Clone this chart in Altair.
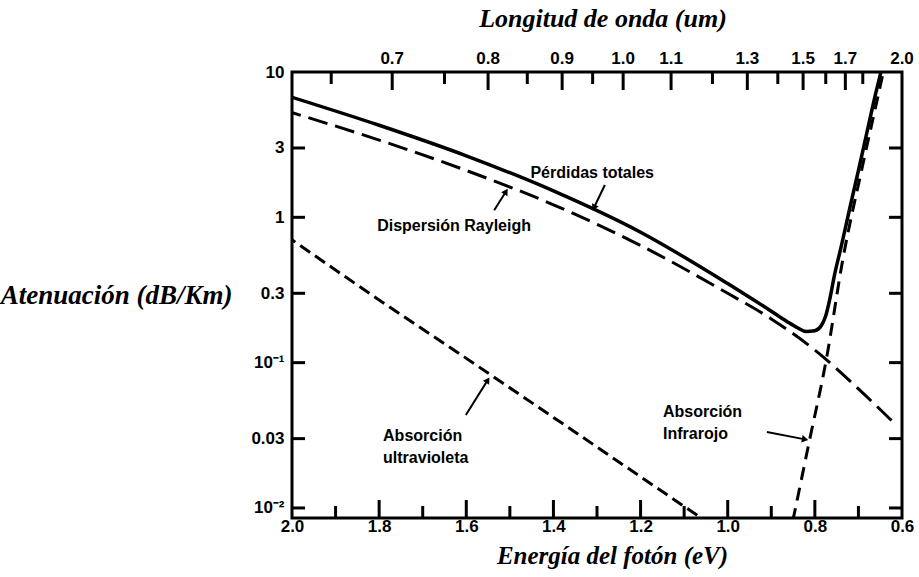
import math
import altair as alt
import pandas as pd

# ---- attenuation curves (dB/km) versus photon energy (eV) ----
energy_total = [2.0, 1.8, 1.6, 1.4, 1.2, 1.0, 0.94, 0.9, 0.865, 0.84, 0.82, 0.80,
                0.785, 0.775, 0.765, 0.755, 0.74, 0.72, 0.70, 0.68, 0.66, 0.645]
loss_total = [6.7, 4.3, 2.65, 1.52, 0.79, 0.35, 0.27, 0.226, 0.193, 0.174, 0.164, 0.166,
              0.18, 0.21, 0.28, 0.40, 0.62, 1.15, 2.1, 3.9, 7.2, 11.0]

energy_rayleigh = [2.0, 1.8, 1.6, 1.4, 1.2, 1.0, 0.9, 0.8, 0.7, 0.624]
loss_rayleigh = [5.25, 3.4, 2.1, 1.22, 0.64, 0.30, 0.20, 0.122, 0.066, 0.040]

energy_uv = [2.0, 1.8, 1.6, 1.4, 1.2, 1.07]
loss_uv = [0.70, 0.27, 0.107, 0.042, 0.0164, 0.0089]

energy_ir = [0.852, 0.846, 0.8125, 0.774, 0.736, 0.69, 0.643, 0.635]
loss_ir = [0.0078, 0.0095, 0.029, 0.104, 0.51, 2.3, 10.0, 13.0]

# ---- axes ----
energy_labels = [2.0, 1.8, 1.6, 1.4, 1.2, 1.0, 0.8, 0.6]
energy_minor = [1.9, 1.7, 1.5, 1.3, 1.1, 0.9, 0.7]
energy_major_ticks = [1.8, 1.6, 1.4, 1.2, 1.0, 0.8]
att_ticks = [0.01, 0.03, 0.1, 0.3, 1, 3, 10]

# wavelength scale (um) on the top edge, placed at the matching photon energy
wl_labels = ["0.7", "0.8", "0.9", "1.0", "1.1", "1.3", "1.5", "1.7", "2.0"]
wl_label_energy = [1.77, 1.55, 1.38, 1.24, 1.13, 0.955, 0.827, 0.73, 0.6]
wl_major_energy = [1.77, 1.55, 1.38, 1.24, 1.13, 0.955, 0.827, 0.73]
wl_minor_energy = [1.91, 1.65, 1.46, 1.31, 1.035, 0.885, 0.775, 0.69]

# ---- annotations: text anchors and arrows (energy, attenuation) ----
notes = ["Pérdidas totales", "Dispersión Rayleigh", "Absorción\nultravioleta", "Absorción\nInfrarojo"]
note_energy = [1.311, 1.628, 1.791, 1.1485]
note_att = [2.02, 0.87, 0.0355, 0.0519]
note_align = ["center", "center", "left", "left"]
note_baseline = ["middle", "middle", "top", "top"]

arrow_from_energy = [1.282, 1.536, 1.601, 0.910]
arrow_from_att = [1.67, 1.12, 0.0436, 0.0333]
arrow_to_energy = [1.311, 1.504, 1.546, 0.8134]
arrow_to_att = [1.10, 1.59, 0.080, 0.0293]

W, H = 610, 446
X_DOMAIN = [0.6, 2.0]
Y_DOMAIN = [0.00853, 10]

xs = alt.Scale(domain=X_DOMAIN, reverse=True, nice=False, zero=False)
ys = alt.Scale(type="log", domain=Y_DOMAIN, nice=False)

LABEL_FONT = "Liberation Sans Narrow, Liberation Sans, Arial"
TEXT_FONT = "Liberation Sans, Arial"
TITLE_FONT = "Liberation Serif, DejaVu Serif"


def to_px(e, v):
    lo, hi = math.log10(Y_DOMAIN[0]), math.log10(Y_DOMAIN[1])
    return (X_DOMAIN[1] - e) / (X_DOMAIN[1] - X_DOMAIN[0]) * W, (hi - math.log10(v)) / (hi - lo) * H


def to_data(px, py):
    lo, hi = math.log10(Y_DOMAIN[0]), math.log10(Y_DOMAIN[1])
    e = X_DOMAIN[1] - px / W * (X_DOMAIN[1] - X_DOMAIN[0])
    return e, 10 ** (hi - py / H * (hi - lo))


# arrow shafts end a little behind the tip, where the head sits
shaft_rows, head_rows = [], []
for e0, v0, e1, v1 in zip(arrow_from_energy, arrow_from_att, arrow_to_energy, arrow_to_att):
    x0, y0 = to_px(e0, v0)
    x1, y1 = to_px(e1, v1)
    dx, dy = x1 - x0, y1 - y0
    n = math.hypot(dx, dy)
    hx, hy = x1 - dx / n * 4, y1 - dy / n * 4
    he, hv = to_data(hx, hy)
    shaft_rows.append({"e0": e0, "v0": v0, "e1": he, "v1": hv})
    ang = math.degrees(math.atan2(dx, -dy)) % 360
    head_rows.append({"e": he, "v": hv, "angle": ang})

curves = pd.concat([
    pd.DataFrame({"E": energy_total, "att": loss_total, "serie": "total"}),
    pd.DataFrame({"E": energy_rayleigh, "att": loss_rayleigh, "serie": "rayleigh"}),
    pd.DataFrame({"E": energy_uv, "att": loss_uv, "serie": "uv"}),
    pd.DataFrame({"E": energy_ir, "att": loss_ir, "serie": "ir"}),
])

X_ENC = dict(scale=xs)
Y_ENC = dict(scale=ys)


def curve(name, dash, width):
    kw = {"strokeDash": dash} if dash else {}
    return alt.Chart(curves).transform_filter(alt.datum.serie == name).mark_line(
        color="black", strokeWidth=width, interpolate="monotone", clip=True, **kw
    ).encode(
        x=alt.X("E:Q", **X_ENC),
        y=alt.Y("att:Q", **Y_ENC),
        order="E:Q",
    )


y_label_expr = ("datum.value < 0.02 ? '10⁻²' : (datum.value > 0.05 && datum.value < 0.2) ? '10⁻¹' : "
                "format(datum.value, '~g')")

# invisible layer carrying the bottom and left axes
axes = alt.Chart(pd.DataFrame({"E": [2.0, 0.6], "att": [0.01, 10]})).mark_point(opacity=0).encode(
    x=alt.X("E:Q", scale=xs, axis=alt.Axis(
        values=energy_labels, format=".1f", ticks=False, domain=False, grid=False,
        labelFont=LABEL_FONT, labelFontWeight="bold", labelFontSize=17, labelColor="black",
        labelPadding=0, labelOverlap=False, labelFlush=False,
        title="Energía del fotón (eV)", titleFont=TITLE_FONT, titleFontStyle="italic",
        titleFontWeight="bold", titleFontSize=25, titleColor="black", titlePadding=9,
        titleX=W / 2 + 15)),
    y=alt.Y("att:Q", scale=ys, axis=alt.Axis(
        values=att_ticks, labelExpr=y_label_expr, ticks=False, domain=False, grid=False,
        labelFont=LABEL_FONT, labelFontWeight="bold", labelFontSize=17, labelColor="black",
        labelPadding=8, labelOverlap=False, labelFlush=False,
        title="Atenuación (dB/Km)", titleFont=TITLE_FONT, titleFontStyle="italic",
        titleFontWeight="bold", titleFontSize=27, titleColor="black", titleAngle=0,
        titleAlign="right", titleBaseline="middle", titleX=-60, titleY=223)),
)


def vticks(values, y0, y1):
    return alt.Chart(pd.DataFrame({"E": values})).mark_rule(color="black", strokeWidth=3).encode(
        x=alt.X("E:Q", **X_ENC), y=alt.value(y0), y2=alt.value(y1))


def hticks(x0, x1):
    return alt.Chart(pd.DataFrame({"att": att_ticks[:-1]})).mark_rule(color="black", strokeWidth=3).encode(
        y=alt.Y("att:Q", **Y_ENC), x=alt.value(x0), x2=alt.value(x1))


top_labels = alt.Chart(pd.DataFrame({"E": wl_label_energy, "label": wl_labels})).mark_text(
    font=LABEL_FONT, fontWeight="bold", fontSize=17, color="black", baseline="bottom", dy=-4
).encode(x=alt.X("E:Q", **X_ENC), y=alt.value(0), text="label:N")

top_title = alt.Chart(pd.DataFrame({"t": ["Longitud de onda (um)"]})).mark_text(
    font=TITLE_FONT, fontStyle="italic", fontWeight="bold", fontSize=26, color="black",
    baseline="middle", align="center"
).encode(x=alt.value(W / 2 + 6), y=alt.value(-53), text="t:N")

note_df = pd.DataFrame({"E": note_energy, "att": note_att, "text": notes,
                        "align": note_align, "baseline": note_baseline})
note_layers = []
for al, bl in [("center", "middle"), ("left", "top")]:
    note_layers.append(
        alt.Chart(note_df).transform_filter(
            (alt.datum.align == al) & (alt.datum.baseline == bl)
        ).transform_calculate(lines="split(datum.text, '\\n')").mark_text(
            font=TEXT_FONT, fontWeight="bold", fontSize=16, color="black",
            align=al, baseline=bl, lineHeight=22
        ).encode(x=alt.X("E:Q", **X_ENC), y=alt.Y("att:Q", **Y_ENC), text="lines:N")
    )

shafts = alt.Chart(pd.DataFrame(shaft_rows)).mark_rule(color="black", strokeWidth=2).encode(
    x=alt.X("e0:Q", **X_ENC), x2="e1:Q",
    y=alt.Y("v0:Q", **Y_ENC), y2="v1:Q")

heads = alt.Chart(pd.DataFrame(head_rows)).mark_point(
    shape="triangle-up", filled=True, color="black", opacity=1, size=55
).encode(
    x=alt.X("e:Q", **X_ENC), y=alt.Y("v:Q", **Y_ENC),
    angle=alt.Angle("angle:Q", scale=None))

chart = alt.layer(
    axes,
    vticks(energy_major_ticks, H, H - 18),
    vticks(energy_minor, H, H - 12),
    vticks(wl_major_energy, 0, 18),
    vticks(wl_minor_energy, 0, 12),
    hticks(0, 13),
    hticks(W, W - 13),
    curve("rayleigh", [20, 8], 3),
    curve("uv", [12, 6], 3),
    curve("ir", [13, 8], 3),
    curve("total", None, 3.5),
    shafts,
    heads,
    *note_layers,
    top_labels,
    top_title,
).properties(
    width=W, height=H,
    padding={"left": 292, "top": 72, "right": 17, "bottom": 59},
    autosize=alt.AutoSizeParams(type="none"),
    background="white",
).configure_view(stroke="black", strokeWidth=3)

chart.save("out.html", embed_options={"renderer": "svg", "actions": False})
